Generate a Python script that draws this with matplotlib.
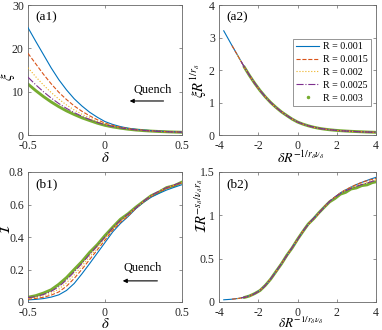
import numpy as np
import matplotlib
matplotlib.use("Agg")
import matplotlib.pyplot as plt
from matplotlib.lines import Line2D

plt.rcParams['font.family'] = ['Liberation Serif', 'DejaVu Serif']
plt.rcParams['mathtext.fontset'] = 'stix'
plt.rcParams['axes.unicode_minus'] = False

# ---------------- data ----------------
R_values = [0.001, 0.0015, 0.002, 0.0025, 0.003]
R_labels = ['R = 0.001', 'R = 0.0015', 'R = 0.002', 'R = 0.0025', 'R = 0.003']

delta = [-0.50, -0.45, -0.40, -0.35, -0.30, -0.25, -0.20, -0.15, -0.10, -0.05,
         0.00, 0.05, 0.10, 0.15, 0.20, 0.25, 0.30, 0.35, 0.40, 0.45,
         0.50, 0.55, 0.60, 0.65, 0.70, 0.75]

xi_R1 = [24.77, 21.63, 18.58, 15.52, 12.77, 10.41, 8.36, 6.70, 5.26, 4.10, 3.10, 2.44, 1.94,
         1.57, 1.32, 1.14, 1.01, 0.90, 0.81, 0.74, 0.67, 0.62, 0.58, 0.54, 0.51, 0.48]
xi_R15 = [18.85, 16.44, 14.03, 11.84, 9.86, 8.18, 6.71, 5.48, 4.43, 3.52, 2.74, 2.21, 1.80,
          1.47, 1.26, 1.10, 0.96, 0.87, 0.79, 0.72, 0.66, 0.61, 0.56, 0.53, 0.50, 0.47]
xi_R2 = [15.52, 13.45, 11.55, 9.82, 8.29, 6.93, 5.77, 4.79, 3.93, 3.16, 2.52, 2.07, 1.71,
         1.42, 1.21, 1.06, 0.94, 0.84, 0.77, 0.71, 0.65, 0.60, 0.56, 0.52, 0.49, 0.47]
xi_R25 = [13.34, 11.59, 9.99, 8.54, 7.26, 6.14, 5.17, 4.32, 3.59, 2.92, 2.36, 1.96, 1.64,
          1.38, 1.18, 1.03, 0.92, 0.82, 0.75, 0.69, 0.64, 0.59, 0.55, 0.51, 0.48, 0.46]
xi_R3 = [11.75, 10.25, 8.88, 7.64, 6.54, 5.57, 4.73, 3.97, 3.34, 2.73, 2.23, 1.87, 1.58,
         1.34, 1.15, 1.01, 0.90, 0.81, 0.74, 0.68, 0.63, 0.59, 0.55, 0.51, 0.48, 0.45]

I_R1 = [0.013, 0.016, 0.021, 0.030, 0.044, 0.071, 0.114, 0.173, 0.236, 0.301, 0.366, 0.431, 0.483,
        0.526, 0.574, 0.614, 0.645, 0.668, 0.689, 0.706, 0.722, 0.736, 0.747, 0.758, 0.767, 0.775]
I_R15 = [0.017, 0.022, 0.029, 0.042, 0.062, 0.097, 0.145, 0.201, 0.261, 0.321, 0.381, 0.442, 0.491,
         0.529, 0.577, 0.617, 0.650, 0.677, 0.698, 0.717, 0.733, 0.744, 0.754, 0.764, 0.774, 0.783]
I_R2 = [0.021, 0.028, 0.038, 0.054, 0.079, 0.118, 0.167, 0.221, 0.278, 0.335, 0.392, 0.450, 0.497,
        0.535, 0.578, 0.618, 0.653, 0.681, 0.704, 0.720, 0.734, 0.745, 0.755, 0.766, 0.776, 0.786]
I_R25 = [0.026, 0.033, 0.046, 0.065, 0.094, 0.136, 0.185, 0.237, 0.292, 0.346, 0.400, 0.456, 0.503,
         0.541, 0.579, 0.620, 0.656, 0.682, 0.704, 0.721, 0.737, 0.749, 0.760, 0.771, 0.782, 0.791]
I_R3 = [0.029, 0.039, 0.055, 0.075, 0.109, 0.150, 0.200, 0.249, 0.305, 0.353, 0.409, 0.460, 0.509,
        0.543, 0.583, 0.619, 0.654, 0.676, 0.704, 0.716, 0.738, 0.745, 0.760, 0.765, 0.780, 0.787]

xi_all = [xi_R1, xi_R15, xi_R2, xi_R25, xi_R3]
I_all = [I_R1, I_R15, I_R2, I_R25, I_R3]

# scaling exponents
inv_r = 0.296      # 1/r_delta
inv_rnu = 0.292    # 1/(r_delta nu_delta)
s_exp = 0.098      # s_delta/(nu_delta r_delta)

colors = ['#0072BD', '#D95319', '#EDB120', '#7E2F8E', '#77AC30']
styles = ['-', '--', ':', '-.', None]

fig = plt.figure(figsize=(3.82, 3.30), dpi=100)
W, H = 382, 330

def add_ax(l, t, r, b):
    return fig.add_axes([l / W, 1 - b / H, (r - l) / W, (b - t) / H])

ax_a1 = add_ax(28, 5, 182, 135)
ax_a2 = add_ax(219, 5, 376, 135)
ax_b1 = add_ax(28, 172, 182, 302)
ax_b2 = add_ax(219, 172, 376, 302)

axcol = '#262626'
tfs = 8.5
lfs = 10.5

def style(ax):
    for s in ax.spines.values():
        s.set_color('#666666')
        s.set_linewidth(0.6)
    ax.tick_params(direction='in', top=True, right=True, length=2, width=0.5,
                   labelsize=tfs, colors='#666666', labelcolor=axcol)
    ax.tick_params(axis='x', pad=3.5)
    ax.tick_params(axis='y', pad=3)

def draw(ax, xs_list, ys_list):
    for i in range(5):
        x = xs_list[i]
        y = ys_list[i]
        if i < 4:
            ax.plot(x, y, color=colors[i], ls=styles[i], lw=0.8, zorder=3 + i)
        else:
            ax.plot(x, y, color=colors[i], ls='-', lw=2.1, zorder=2,
                    solid_capstyle='round')

d = np.array(delta)
xs_scaled = [d * R ** (-inv_rnu) for R in R_values]

def panel_label(ax, s):
    ax.text(0.05, 0.955, s, transform=ax.transAxes, fontsize=9.5, va='top', ha='left')

def labels(ax, xl, yl, xy_x, xy_y, xfs=lfs, yfs=lfs):
    ax.set_xlabel(xl, fontsize=xfs)
    ax.set_ylabel(yl, fontsize=yfs)
    ax.xaxis.set_label_coords(*xy_x)
    ax.yaxis.set_label_coords(*xy_y)

# (a1)
draw(ax_a1, [d] * 5, xi_all)
ax_a1.set_xlim(-0.5, 0.5)
ax_a1.set_ylim(0, 30)
ax_a1.set_xticks([-0.5, 0, 0.5])
ax_a1.set_xticklabels(['-0.5', '0', '0.5'])
ax_a1.set_yticks([0, 10, 20, 30])
labels(ax_a1, r'$\delta$', r'$\xi$', (0.5, -0.12), (-0.07, 0.45))
panel_label(ax_a1, '(a1)')
ax_a1.text(0.31, 10.4, 'Quench', fontsize=8.8, ha='center', va='center')
ax_a1.annotate('', xy=(0.16, 7.85), xytext=(0.38, 7.85),
               arrowprops=dict(arrowstyle='-|>', color='black', lw=0.8,
                               mutation_scale=6, shrinkA=0, shrinkB=0))
style(ax_a1)

# (a2)
ys_a2 = [np.array(xi_all[i]) * R_values[i] ** inv_r for i in range(5)]
draw(ax_a2, xs_scaled, ys_a2)
ax_a2.set_xlim(-4, 4)
ax_a2.set_ylim(0, 4)
ax_a2.set_xticks([-4, -2, 0, 2, 4])
ax_a2.set_yticks([0, 1, 2, 3, 4])
labels(ax_a2, r'$\delta R^{-1/r_\delta\nu_\delta}$', r'$\xi R^{1/r_\delta}$',
       (0.52, -0.11), (-0.065, 0.42), xfs=10)
panel_label(ax_a2, '(a2)')
handles = []
for i in range(5):
    if i < 4:
        handles.append(Line2D([], [], color=colors[i], ls=styles[i], lw=0.8))
    else:
        handles.append(Line2D([], [], color=colors[i], ls='none', marker='.', ms=3))
leg = ax_a2.legend(handles, R_labels, loc='upper right', bbox_to_anchor=(0.968, 0.74),
                   fontsize=7.2, frameon=True, fancybox=False, edgecolor='#666666',
                   handlelength=2.3, handletextpad=0.35, labelspacing=0.38,
                   borderpad=0.35, borderaxespad=0)
leg.get_frame().set_linewidth(0.6)
style(ax_a2)

# (b1)
draw(ax_b1, [d] * 5, I_all)
ax_b1.set_xlim(-0.5, 0.5)
ax_b1.set_ylim(0, 0.8)
ax_b1.set_xticks([-0.5, 0, 0.5])
ax_b1.set_xticklabels(['-0.5', '0', '0.5'])
ax_b1.set_yticks([0, 0.2, 0.4, 0.6, 0.8])
ax_b1.set_yticklabels(['0', '0.2', '0.4', '0.6', '0.8'])
labels(ax_b1, r'$\delta$', r'$\mathcal{I}$', (0.5, -0.115), (-0.1, 0.56), yfs=10)
panel_label(ax_b1, '(b1)')
ax_b1.text(0.247, 0.21, 'Quench', fontsize=8.8, ha='center', va='center')
ax_b1.annotate('', xy=(0.115, 0.13), xytext=(0.34, 0.13),
               arrowprops=dict(arrowstyle='-|>', color='black', lw=0.8,
                               mutation_scale=6, shrinkA=0, shrinkB=0))
style(ax_b1)

# (b2)
ys_b2 = [np.array(I_all[i]) * R_values[i] ** (-s_exp) for i in range(5)]
draw(ax_b2, xs_scaled, ys_b2)
ax_b2.set_xlim(-4, 4)
ax_b2.set_ylim(0, 1.5)
ax_b2.set_xticks([-4, -2, 0, 2, 4])
ax_b2.set_yticks([0, 0.5, 1, 1.5])
ax_b2.set_yticklabels(['0', '0.5', '1', '1.5'])
labels(ax_b2, r'$\delta R^{-1/r_\delta\nu_\delta}$', r'$\mathcal{I} R^{-s_\delta/\nu_\delta r_\delta}$',
       (0.52, -0.105), (-0.055, 0.74), xfs=9.5)
panel_label(ax_b2, '(b2)')
style(ax_b2)

fig.savefig('out.png', dpi=100)
